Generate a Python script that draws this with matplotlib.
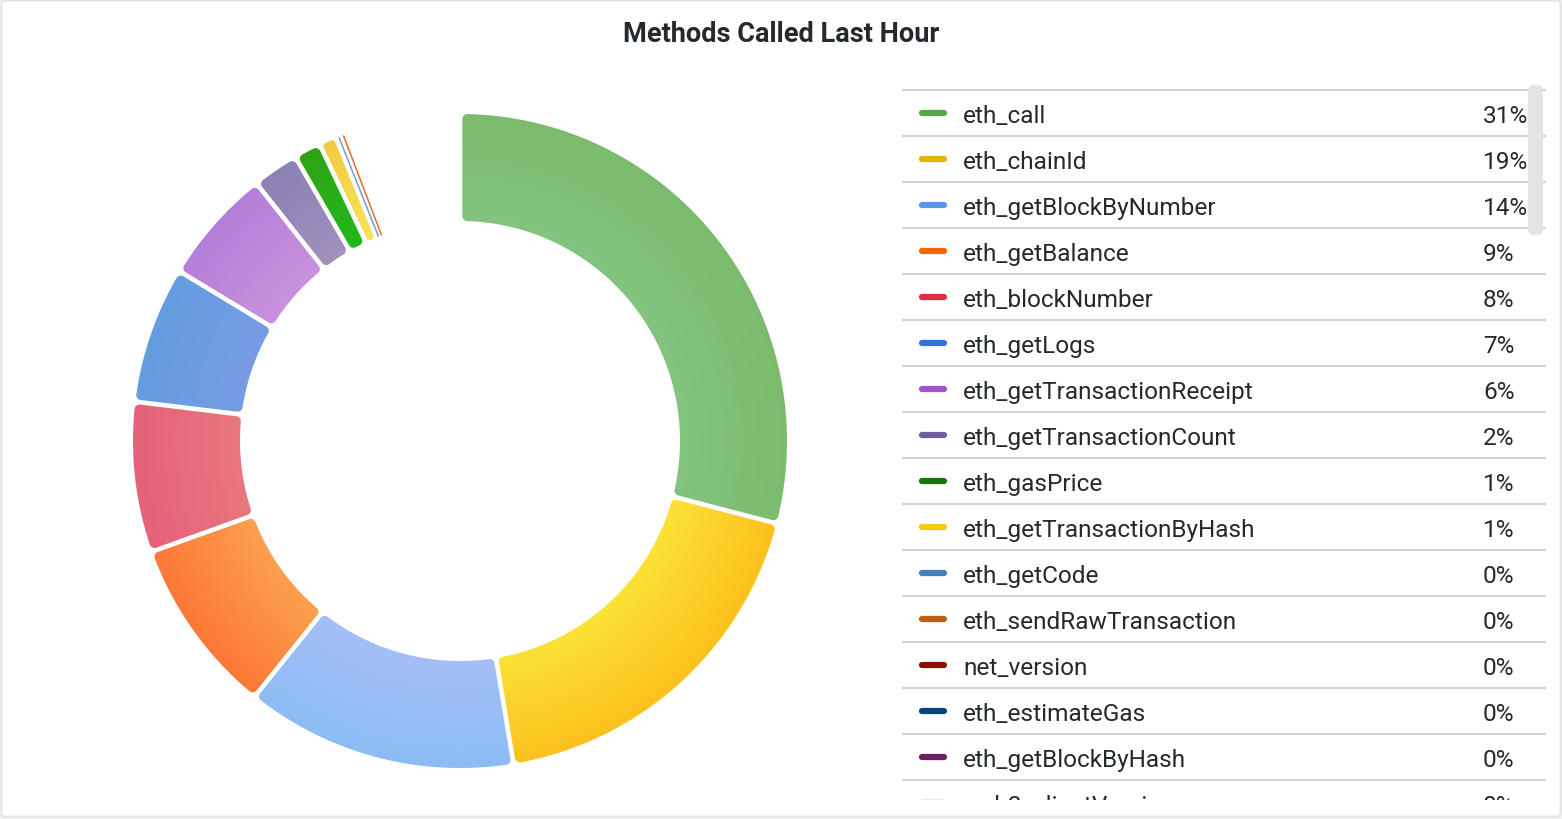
import colorsys
import numpy as np
import matplotlib
matplotlib.use("Agg")
import matplotlib.pyplot as plt
from matplotlib.path import Path
from matplotlib.patches import PathPatch, FancyBboxPatch, Rectangle
import matplotlib.colors as mcolors

plt.rcParams['font.family'] = ['Roboto', 'DejaVu Sans']

# data
methods = ["eth_call", "eth_chainId", "eth_getBlockByNumber", "eth_getBalance",
           "eth_blockNumber", "eth_getLogs", "eth_getTransactionReceipt",
           "eth_getTransactionCount", "eth_gasPrice", "eth_getTransactionByHash",
           "eth_getCode", "eth_sendRawTransaction", "net_version",
           "eth_estimateGas", "eth_getBlockByHash", "web3_clientVersion"]
shares = [30.6, 19.3, 14.1, 9.2, 7.8, 7.1, 6.0, 2.4, 1.4, 0.9,
          0.3, 0.2, 0.05, 0.03, 0.02, 0.01]
colors = ["#56A64B", "#E0B400", "#5794F2", "#FA6400", "#E02F44", "#3274D9",
          "#A352CC", "#705DA0", "#19730E", "#F2CC0C", "#447EBC", "#C15C17",
          "#890F02", "#0A437C", "#6D1F62", "#584477"]
drawn_part = 0.944   # part of the circle covered by the slices

W, H = 1562, 820
fig = plt.figure(figsize=(W / 100, H / 100), dpi=100)
fig.patch.set_facecolor("#f1f2f4")
ax = fig.add_axes([0, 0, 1, 1])
ax.set_xlim(0, W)
ax.set_ylim(H, 0)
ax.axis("off")

panel = FancyBboxPatch((1.5, 1.5), W - 3, H - 4, boxstyle="round,pad=0,rounding_size=4",
                       facecolor="white", edgecolor="#e2e3e6", lw=1.3, zorder=0)
ax.add_patch(panel)

ax.text(781, 35, "Methods Called Last Hour", ha="center", va="center",
        fontsize=19.5, fontweight="bold", color="#24292e")

# ---- donut ----
cx, cy = 460, 442
r_out, r_in = 327, 220
half_gap = 2.3
corner = 5.0


def shade(col, light, spin):
    r, g, b = mcolors.to_rgb(col)
    h, l, s = colorsys.rgb_to_hls(r, g, b)
    l = min(1, l + light / 100)
    h = (h + spin / 360) % 1
    return np.array(colorsys.hls_to_rgb(h, l, s * 0.97))


def to_screen(pts):
    return np.column_stack([cx + pts[:, 0], cy - pts[:, 1]])


def slice_outline(a_lo, a_hi, ro, ri, d):
    # CCW outline in math coords, sides parallel to radii at distance d
    o0, o1 = a_lo + np.arcsin(d / ro), a_hi - np.arcsin(d / ro)
    i0, i1 = a_lo + np.arcsin(d / ri), a_hi - np.arcsin(d / ri)
    ta = np.linspace(o0, o1, max(8, int((o1 - o0) * 180)))
    tb = np.linspace(i1, i0, max(8, int((i1 - i0) * 180)))
    outer = np.column_stack([ro * np.cos(ta), ro * np.sin(ta)])
    inner = np.column_stack([ri * np.cos(tb), ri * np.sin(tb)])
    return np.vstack([outer, inner])


def grow(pts, rad):
    out = []
    n = len(pts)
    for i in range(n):
        p0, p1, p2 = pts[i - 1], pts[i], pts[(i + 1) % n]
        e1, e2 = p1 - p0, p2 - p1
        n1 = np.array([e1[1], -e1[0]]) / np.hypot(*e1)
        n2 = np.array([e2[1], -e2[0]]) / np.hypot(*e2)
        cross = e1[0] * e2[1] - e1[1] * e2[0]
        if cross > 0:
            a1, a2 = np.arctan2(n1[1], n1[0]), np.arctan2(n2[1], n2[0])
            da = (a2 - a1) % (2 * np.pi)
            for t in np.linspace(a1, a1 + da, max(2, int(da * 12))):
                out.append(p1 + rad * np.array([np.cos(t), np.sin(t)]))
        else:
            m = n1 + n2
            out.append(p1 + rad * m / np.hypot(*m))
    return np.array(out)


total = sum(shares)
sweep = 360 * drawn_part
bounds = np.concatenate([[0], np.cumsum(shares)]) / total * sweep

gx = np.arange(cx - r_out, cx + r_out + 1)
gy = np.arange(cy - r_out, cy + r_out + 1)
XX, YY = np.meshgrid(gx, gy)
RR = np.hypot(XX - cx, YY - cy)
tt = np.clip((RR - r_in) / (r_out - r_in), 0, 1)[..., None]

for k, (share, col) in enumerate(zip(shares, colors)):
    c0, c1 = bounds[k], bounds[k + 1]
    a_lo, a_hi = np.radians(90 - c1), np.radians(90 - c0)
    span = a_hi - a_lo
    width_in = r_in * span - 2 * half_gap
    c_from, c_to = shade(col, 16, 4), shade(col, 11, -4)
    if width_in < 3:
        if np.degrees(span) < 0.5:
            continue
        am = (a_lo + a_hi) / 2
        ax.plot([cx + r_out * np.cos(am), cx + r_in * np.cos(am)],
                [cy - r_out * np.sin(am), cy - r_in * np.sin(am)],
                color=c_to, lw=1.1, solid_capstyle="butt", zorder=3)
        continue
    rc = min(corner, width_in / 2 * 0.9)
    core = slice_outline(a_lo, a_hi, r_out - rc, r_in + rc, half_gap + rc)
    shape = to_screen(grow(core, rc))
    patch = PathPatch(Path(np.vstack([shape, shape[:1]]), closed=True),
                      facecolor="none", edgecolor="none")
    ax.add_patch(patch)
    img = c_from * (1 - tt) + c_to * tt
    im = ax.imshow(img, extent=(gx[0] - 0.5, gx[-1] + 0.5, gy[-1] + 0.5, gy[0] - 0.5),
                   origin="upper", interpolation="bilinear", zorder=2)
    im.set_clip_path(patch)

ax.set_xlim(0, W)
ax.set_ylim(H, 0)

# ---- legend table ----
clip = Rectangle((895, 86), 660, 715, transform=ax.transData, facecolor="none", edgecolor="none")
ax.add_patch(clip)
row_top = 91
row_h = 46
pct = [round(100 * s / total) for s in shares]
for k, (name, col, p) in enumerate(zip(methods, colors, pct)):
    y = row_top + row_h * k
    ln, = ax.plot([903, 1545], [y, y], color="#d2d2d2", lw=1.5, zorder=3)
    ln.set_clip_path(clip)
    yc = y + row_h / 2
    sw, = ax.plot([922, 944], [yc, yc], color=col, lw=4.5, solid_capstyle="round", zorder=3)
    sw.set_clip_path(clip)
    t1 = ax.text(963, yc, name, ha="left", va="center_baseline", fontsize=17.6,
                 color="#24292e", zorder=4, clip_on=True)
    t1.set_clip_path(clip)
    t2 = ax.text(1483, yc, "%d%%" % p, ha="left", va="center_baseline", fontsize=17.6,
                 color="#24292e", zorder=4, clip_on=True)
    t2.set_clip_path(clip)

bar = FancyBboxPatch((1528, 86), 15, 150, boxstyle="round,pad=0,rounding_size=6",
                     facecolor="#e3e4e6", edgecolor="none", zorder=5)
ax.add_patch(bar)

fig.savefig("out.png", dpi=100, facecolor=fig.get_facecolor())
